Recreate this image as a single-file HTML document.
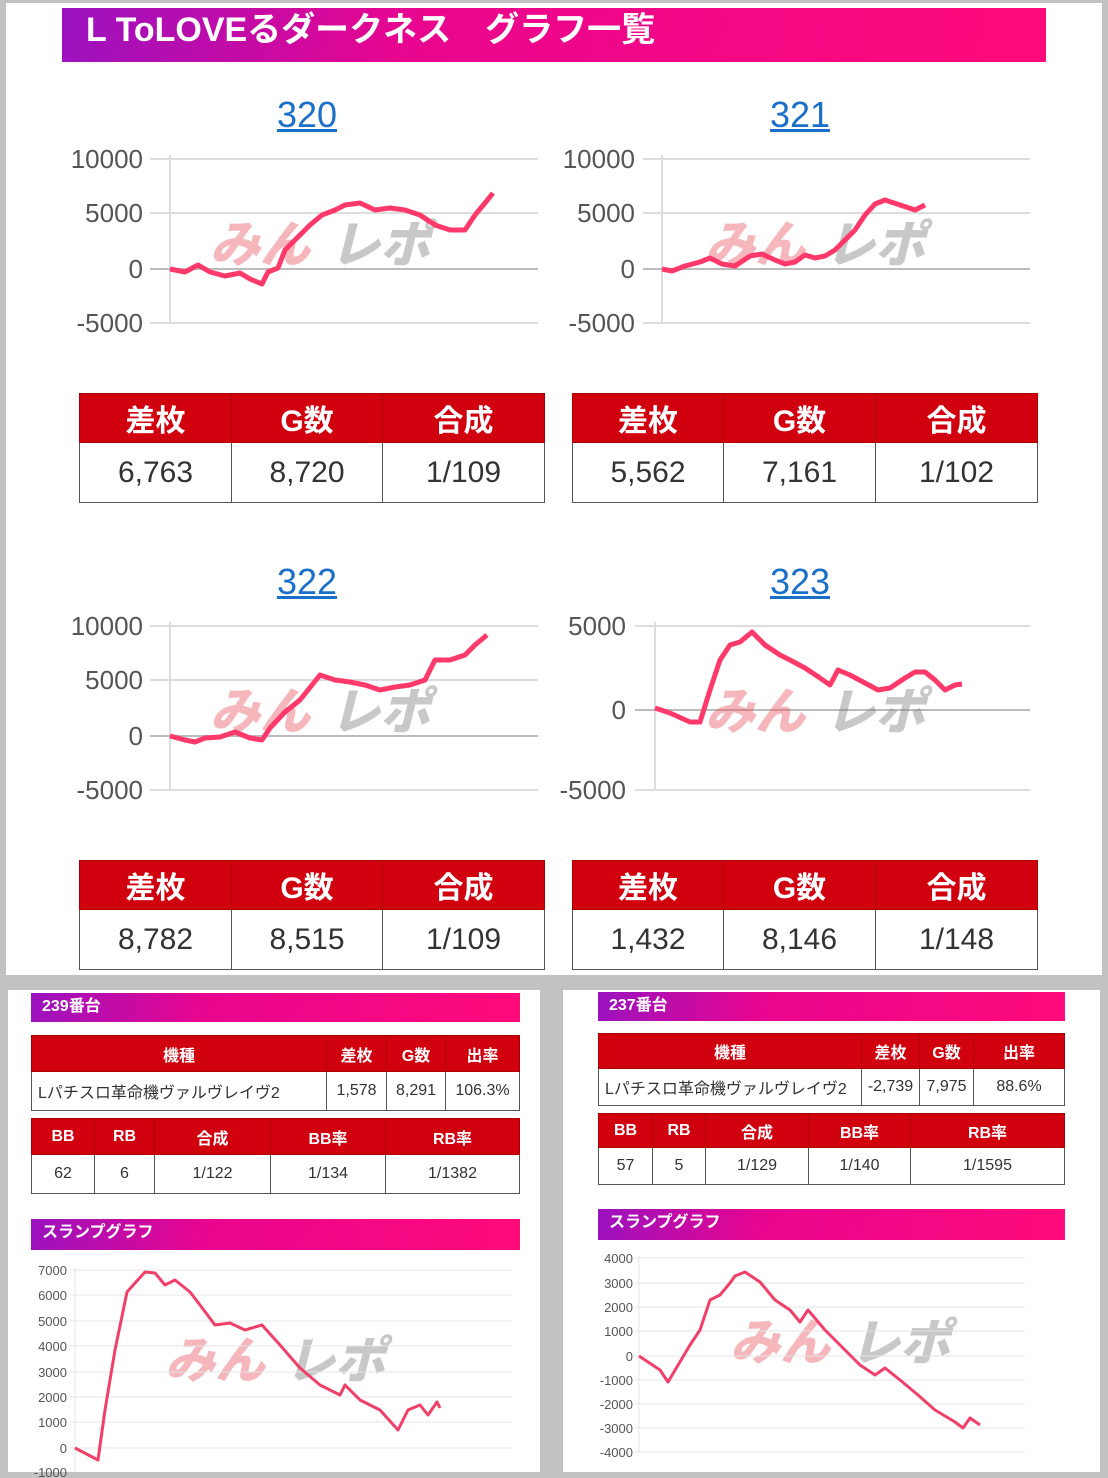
<!DOCTYPE html>
<html><head><meta charset="utf-8">
<style>
*{margin:0;padding:0;box-sizing:border-box}
body{width:1108px;height:1478px;background:#c2c2c2;position:relative;overflow:hidden;font-family:"Liberation Sans","Noto Sans CJK JP",sans-serif}
.p{position:absolute;background:#fff}
.hd{position:absolute;background:linear-gradient(100deg,#9a12c0 0%,#e8058f 35%,#ff0a7a 100%);color:#fff;font-weight:bold}
table{position:absolute;border-collapse:collapse;table-layout:fixed}
td{border:1.5px solid #555;text-align:center;color:#333}
tr.h td{background:#d0000f;color:#fff;font-weight:bold;border-color:#a00}
svg{position:absolute;left:0;top:0}
.t{position:absolute;color:#1a6fc8;text-decoration:underline;font-size:36px;text-align:center;width:100px}
</style></head><body>
<div class="p" style="left:6px;top:3px;width:1096px;height:972px"></div>
<div class="p" style="left:8px;top:990px;width:532px;height:482px"></div>
<div class="p" style="left:563px;top:990px;width:537px;height:482px"></div>

<div class="hd" style="left:62px;top:8px;width:984px;height:54px;font-size:34px;line-height:44px;padding-left:24px">L ToLOVEるダークネス　グラフ一覧</div>
<div class="t" style="left:257px;top:94px">320</div>
<div class="t" style="left:750px;top:94px">321</div>
<div class="t" style="left:257px;top:561px">322</div>
<div class="t" style="left:750px;top:561px">323</div>

<table style="left:79px;top:393px;width:466px;height:110px;font-size:30px"><colgroup><col style="width:152px"><col style="width:151px"><col></colgroup>
<tr class="h" style="height:49px"><td>差枚</td><td>G数</td><td>合成</td></tr><tr><td>6,763</td><td>8,720</td><td>1/109</td></tr></table>
<table style="left:572px;top:393px;width:466px;height:110px;font-size:30px"><colgroup><col style="width:151px"><col style="width:152px"><col></colgroup>
<tr class="h" style="height:49px"><td>差枚</td><td>G数</td><td>合成</td></tr><tr><td>5,562</td><td>7,161</td><td>1/102</td></tr></table>
<table style="left:79px;top:860px;width:466px;height:110px;font-size:30px"><colgroup><col style="width:152px"><col style="width:151px"><col></colgroup>
<tr class="h" style="height:49px"><td>差枚</td><td>G数</td><td>合成</td></tr><tr><td>8,782</td><td>8,515</td><td>1/109</td></tr></table>
<table style="left:572px;top:860px;width:466px;height:110px;font-size:30px"><colgroup><col style="width:151px"><col style="width:152px"><col></colgroup>
<tr class="h" style="height:49px"><td>差枚</td><td>G数</td><td>合成</td></tr><tr><td>1,432</td><td>8,146</td><td>1/148</td></tr></table>

<div class="hd" style="left:31px;top:993px;width:489px;height:29px;font-size:16px;line-height:27px;padding-left:11px">239番台</div>
<table style="left:31px;top:1035px;width:489px;height:76px;font-size:16px"><colgroup><col style="width:295px"><col style="width:60px"><col style="width:59px"><col></colgroup>
<tr class="h" style="height:36px"><td>機種</td><td>差枚</td><td>G数</td><td>出率</td></tr><tr><td style="text-align:left;padding-left:6px">Lパチスロ革命機ヴァルヴレイヴ2</td><td>1,578</td><td>8,291</td><td>106.3%</td></tr></table>
<table style="left:31px;top:1118px;width:489px;height:76px;font-size:16px"><colgroup><col style="width:63px"><col style="width:60px"><col style="width:116px"><col style="width:115px"><col></colgroup>
<tr class="h" style="height:36px"><td>BB</td><td>RB</td><td>合成</td><td>BB率</td><td>RB率</td></tr><tr><td>62</td><td>6</td><td>1/122</td><td>1/134</td><td>1/1382</td></tr></table>
<div class="hd" style="left:31px;top:1219px;width:489px;height:31px;font-size:16px;line-height:28px;padding-left:11px">スランプグラフ</div>

<div class="hd" style="left:598px;top:992px;width:467px;height:29px;font-size:16px;line-height:27px;padding-left:11px">237番台</div>
<table style="left:598px;top:1033px;width:467px;height:73px;font-size:16px"><colgroup><col style="width:263px"><col style="width:58px"><col style="width:54px"><col></colgroup>
<tr class="h" style="height:35px"><td>機種</td><td>差枚</td><td>G数</td><td>出率</td></tr><tr><td style="text-align:left;padding-left:6px">Lパチスロ革命機ヴァルヴレイヴ2</td><td>-2,739</td><td>7,975</td><td>88.6%</td></tr></table>
<table style="left:598px;top:1113px;width:467px;height:72px;font-size:16px"><colgroup><col style="width:54px"><col style="width:53px"><col style="width:103px"><col style="width:102px"><col></colgroup>
<tr class="h" style="height:34px"><td>BB</td><td>RB</td><td>合成</td><td>BB率</td><td>RB率</td></tr><tr><td>57</td><td>5</td><td>1/129</td><td>1/140</td><td>1/1595</td></tr></table>
<div class="hd" style="left:598px;top:1209px;width:467px;height:31px;font-size:16px;line-height:28px;padding-left:11px">スランプグラフ</div>

<svg width="1108" height="1478" font-family="Liberation Sans, sans-serif">
<g stroke="#ddd" stroke-width="2">
<line x1="150" y1="159" x2="538" y2="159"/><line x1="150" y1="213" x2="538" y2="213"/><line x1="150" y1="323" x2="538" y2="323"/><line x1="170" y1="155" x2="170" y2="323"/>
<line x1="643" y1="159" x2="1030" y2="159"/><line x1="643" y1="213" x2="1030" y2="213"/><line x1="643" y1="323" x2="1030" y2="323"/><line x1="662" y1="155" x2="662" y2="323"/>
<line x1="150" y1="626" x2="538" y2="626"/><line x1="150" y1="680" x2="538" y2="680"/><line x1="150" y1="790" x2="538" y2="790"/><line x1="170" y1="622" x2="170" y2="790"/>
<line x1="635" y1="626" x2="1030" y2="626"/><line x1="635" y1="790" x2="1030" y2="790"/><line x1="655" y1="622" x2="655" y2="790"/>
</g>
<g stroke="#bbb" stroke-width="2"><line x1="150" y1="269" x2="538" y2="269"/><line x1="643" y1="269" x2="1030" y2="269"/><line x1="150" y1="736" x2="538" y2="736"/><line x1="635" y1="710" x2="1030" y2="710"/></g>
<g fill="#555" font-size="26" text-anchor="end">
<text x="143" y="168">10000</text><text x="143" y="222">5000</text><text x="143" y="278">0</text><text x="143" y="332">-5000</text>
<text x="635" y="168">10000</text><text x="635" y="222">5000</text><text x="635" y="278">0</text><text x="635" y="332">-5000</text>
<text x="143" y="635">10000</text><text x="143" y="689">5000</text><text x="143" y="745">0</text><text x="143" y="799">-5000</text>
<text x="626" y="635">5000</text><text x="626" y="719">0</text><text x="626" y="799">-5000</text>
</g>
<g font-size="50" font-weight="900" font-style="italic" font-family="Noto Sans CJK JP, sans-serif" opacity="0.4">
<text x="210" y="262" fill="#e84a5a">みん</text><text x="330" y="262" fill="#777">レポ</text>
<text x="705" y="262" fill="#e84a5a">みん</text><text x="825" y="262" fill="#777">レポ</text>
<text x="210" y="729" fill="#e84a5a">みん</text><text x="330" y="729" fill="#777">レポ</text>
<text x="705" y="729" fill="#e84a5a">みん</text><text x="825" y="729" fill="#777">レポ</text>
<text x="165" y="1378" fill="#e84a5a">みん</text><text x="285" y="1378" fill="#777">レポ</text>
<text x="730" y="1360" fill="#e84a5a">みん</text><text x="850" y="1360" fill="#777">レポ</text>
</g>
<g fill="none" stroke="#ff3a6a" stroke-width="5" stroke-linejoin="round">
<polyline points="170,269 185,272 198,265 210,272 225,276 240,273 250,279 262,284 268,272 278,268 285,250 295,240 310,225 322,215 335,210 345,205 360,203 375,210 390,208 405,210 420,215 435,225 450,230 465,230 475,215 485,203 493,193"/>
<polyline points="662,269 672,271 685,266 700,262 710,258 722,264 735,266 750,256 762,254 775,260 785,264 795,262 805,255 815,258 825,256 835,250 845,240 855,230 865,215 875,204 885,200 900,205 915,210 925,205"/>
<polyline points="170,736 185,740 195,742 205,738 220,737 235,732 250,738 262,740 270,728 285,712 300,700 320,675 335,680 350,682 365,685 380,690 395,687 410,685 425,680 435,660 450,660 465,655 475,645 487,635"/>
<polyline points="655,708 670,713 690,722 700,722 710,690 720,660 730,645 740,642 752,632 765,645 780,655 790,660 805,668 820,678 830,685 838,670 850,675 865,683 878,690 890,688 905,678 915,672 925,672 935,680 945,690 955,685 962,684"/>
</g>
<g stroke="#e4e4e4" stroke-width="1">
<line x1="70" y1="1270" x2="512" y2="1270"/><line x1="70" y1="1295" x2="512" y2="1295"/><line x1="70" y1="1321" x2="512" y2="1321"/><line x1="70" y1="1346" x2="512" y2="1346"/><line x1="70" y1="1372" x2="512" y2="1372"/><line x1="70" y1="1397" x2="512" y2="1397"/><line x1="70" y1="1422" x2="512" y2="1422"/><line x1="70" y1="1448" x2="512" y2="1448"/><line x1="75" y1="1268" x2="75" y2="1472"/>
<line x1="634" y1="1258" x2="1025" y2="1258"/><line x1="634" y1="1283" x2="1025" y2="1283"/><line x1="634" y1="1307" x2="1025" y2="1307"/><line x1="634" y1="1331" x2="1025" y2="1331"/><line x1="634" y1="1356" x2="1025" y2="1356"/><line x1="634" y1="1380" x2="1025" y2="1380"/><line x1="634" y1="1404" x2="1025" y2="1404"/><line x1="634" y1="1428" x2="1025" y2="1428"/><line x1="634" y1="1452" x2="1025" y2="1452"/><line x1="639" y1="1256" x2="639" y2="1452"/>
</g>
<g fill="#555" font-size="13" text-anchor="end">
<text x="67" y="1275">7000</text><text x="67" y="1300">6000</text><text x="67" y="1326">5000</text><text x="67" y="1351">4000</text><text x="67" y="1377">3000</text><text x="67" y="1402">2000</text><text x="67" y="1427">1000</text><text x="67" y="1453">0</text><text x="67" y="1477">-1000</text>
<text x="633" y="1263">4000</text><text x="633" y="1288">3000</text><text x="633" y="1312">2000</text><text x="633" y="1336">1000</text><text x="633" y="1361">0</text><text x="633" y="1385">-1000</text><text x="633" y="1409">-2000</text><text x="633" y="1433">-3000</text><text x="633" y="1457">-4000</text>
</g>
<g fill="none" stroke="#f0406a" stroke-width="3" stroke-linejoin="round">
<polyline points="75,1448 98,1460 105,1410 115,1350 127,1292 145,1272 155,1273 165,1285 175,1280 190,1292 200,1305 215,1325 230,1323 245,1330 262,1325 280,1345 300,1368 320,1385 340,1395 345,1385 360,1400 380,1410 398,1430 408,1410 420,1405 428,1415 437,1402 440,1408"/>
<polyline points="639,1356 660,1370 668,1382 690,1345 700,1330 710,1300 720,1295 730,1283 735,1276 745,1272 760,1282 775,1300 790,1310 800,1322 808,1310 825,1330 840,1345 860,1365 875,1375 885,1368 900,1380 918,1395 935,1410 955,1422 963,1428 970,1418 980,1425"/>
</g>
</svg>
</body></html>
